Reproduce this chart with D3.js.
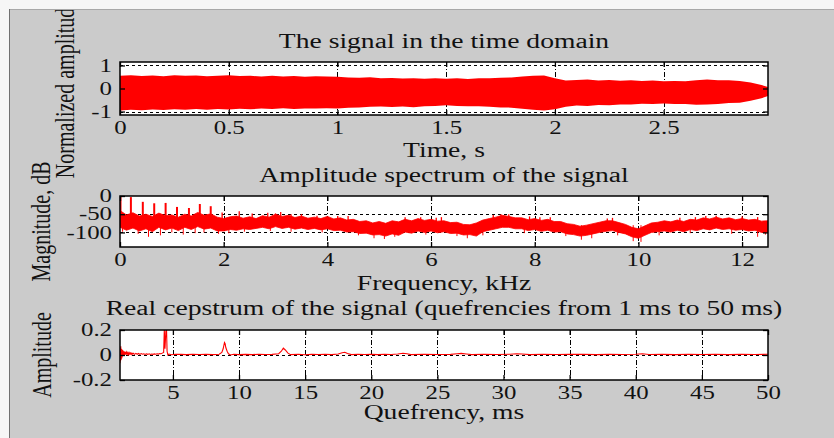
<!DOCTYPE html>
<html>
<head>
<meta charset="utf-8">
<script src="https://cdn.jsdelivr.net/npm/d3@7"></script>
<style>
body { margin: 0; background: #f6f6f6; }
svg { display: block; }
</style>
</head>
<body>
<div id="chart"></div>
<script>
// signal envelope in the time domain
var sigTime = [0, .05, .10, .15, .20, .25, .30, .35, .40, .45, .50, .55, .60, .65, .70, .75, .80, .85, .90, .95,
    1.00, 1.05, 1.10, 1.15, 1.20, 1.25, 1.30, 1.35, 1.40, 1.45, 1.50, 1.55, 1.60, 1.65, 1.70, 1.75, 1.80, 1.85, 1.90, 1.95,
    2.00, 2.05, 2.10, 2.15, 2.20, 2.25, 2.30, 2.35, 2.40, 2.45, 2.50, 2.55, 2.60, 2.65, 2.70, 2.75, 2.80, 2.85, 2.90, 2.95, 2.98];
var sigUpper = [.55, .57, .54, .56, .53, .57, .55, .56, .53, .55, .57, .54, .55, .52, .55, .52, .54, .51, .53, .52,
    .51, .48, .47, .49, .45, .46, .43, .44, .42, .44, .42, .44, .41, .44, .44, .47, .48, .52, .55, .56,
    .44, .35, .37, .39, .35, .37, .34, .36, .33, .35, .31, .33, .32, .36, .39, .36, .36, .33, .26, .15, .07];
var sigLower = [-.95, -.92, -.94, -.91, -.93, -.90, -.92, -.89, -.92, -.89, -.91, -.88, -.90, -.87, -.89, -.86, -.89, -.87, -.87, -.86,
    -.87, -.83, -.82, -.79, -.78, -.80, -.78, -.81, -.77, -.76, -.73, -.76, -.77, -.77, -.79, -.82, -.83, -.88, -.92, -.95,
    -.90, -.79, -.74, -.76, -.72, -.73, -.69, -.69, -.66, -.67, -.65, -.67, -.67, -.70, -.69, -.67, -.63, -.62, -.53, -.42, -.33];
var timeTicks = [0, 0.5, 1, 1.5, 2, 2.5];
var sigTicks = [-1, 0, 1];

// amplitude spectrum: band edges every 0.125 kHz, in dB
var specTop = [-40, -52, -46, -55, -50, -56, -47, -54, -52, -58, -50, -55, -45, -53, -49, -58,
    -62, -57, -55, -61, -57, -62, -54, -58, -50, -56, -53, -59, -55, -61, -58, -62,
    -56, -63, -60, -66, -64, -70, -68, -74, -70, -75, -68, -71, -64, -68, -62, -67,
    -64, -69, -68, -73, -72, -78, -79, -74, -66, -62, -58, -53, -56, -60, -60, -65,
    -62, -67, -64, -70, -70, -76, -78, -83, -80, -76, -72, -68, -68, -73, -78, -86,
    -90, -82, -74, -72, -68, -71, -66, -70, -64, -66, -60, -63, -58, -63, -60, -65,
    -62, -66, -64, -69, -68];
var specBot = [-86, -94, -88, -96, -90, -98, -86, -93, -88, -95, -86, -92, -84, -91, -88, -96,
    -96, -92, -94, -90, -92, -89, -86, -90, -84, -89, -86, -91, -88, -92, -89, -93,
    -90, -95, -94, -99, -98, -103, -102, -107, -106, -110, -104, -108, -99, -102, -96, -100,
    -96, -101, -98, -103, -102, -107, -106, -110, -98, -94, -90, -86, -86, -90, -90, -95,
    -92, -97, -94, -99, -98, -104, -106, -110, -108, -104, -100, -97, -95, -100, -104, -112,
    -116, -108, -100, -98, -96, -99, -94, -98, -92, -95, -90, -93, -88, -92, -90, -94,
    -92, -96, -94, -100, -100];
// harmonic peaks of the voice [kHz, dB]
var specHarm = [[0.01, -1], [0.21, -3], [0.44, -16], [0.66, -20], [0.88, -19], [1.1, -30], [1.33, -33], [1.54, -22], [1.75, -28]];
// smaller spikes above the band [kHz, dB]
var specPeaks = [[1.97, -45], [2.3, -42], [2.55, -48], [2.85, -46], [3.0, -48], [3.1, -44], [3.3, -50], [3.5, -50],
    [3.8, -54], [4.2, -55], [4.4, -55], [5.5, -58], [5.8, -58], [6.1, -60], [6.2, -58], [7.2, -52], [7.35, -50],
    [7.5, -50], [7.9, -56], [8.1, -58], [8.3, -58], [9.4, -62], [9.5, -60], [10.8, -60], [11.1, -58], [11.3, -55],
    [11.5, -54], [12.0, -56], [12.3, -58]];
// spikes below the band [kHz, dB]
var specDips = [[0.05, -98], [0.35, -104], [0.55, -112], [0.78, -108], [1.0, -100], [1.22, -106], [1.45, -102],
    [1.62, -100], [1.9, -104], [2.1, -102], [2.4, -98], [2.9, -96], [3.3, -98], [3.9, -100], [4.6, -108], [4.9, -116],
    [5.1, -118], [5.3, -112], [5.9, -106], [6.5, -110], [6.7, -116], [7.0, -108], [7.8, -102], [8.6, -110], [8.9, -120],
    [9.1, -116], [9.6, -108], [9.9, -124], [10.05, -126], [10.4, -108], [11.0, -102], [11.8, -104], [12.3, -112], [12.45, -106]];
var freqTicks = [0, 2, 4, 6, 8, 10, 12];
var dbTicks = [-100, -50, 0];

// real cepstrum [ms, amplitude]
var cepPoints = [[1.00, -.065], [1.02, .06], [1.04, -.05], [1.06, .07], [1.08, -.04], [1.10, .05], [1.12, -.03], [1.14, .045],
    [1.16, -.02], [1.18, .04], [1.20, -.01], [1.23, .035], [1.26, -.005], [1.29, .03], [1.32, 0], [1.35, .028], [1.38, .002],
    [1.42, .025], [1.46, .004], [1.50, .022], [1.55, .006], [1.60, .02], [1.65, .004], [1.70, .018], [1.75, .006], [1.80, .016],
    [1.85, .004], [1.90, .015], [1.95, .007], [2.0, .014], [2.1, .005], [2.2, .013], [2.3, .006], [2.4, .012], [2.5, .005],
    [2.6, .011], [2.7, .006], [2.8, .01], [2.9, .004], [3.0, .009], [3.1, .005], [3.2, .01], [3.3, .004], [3.4, .008],
    [3.5, .005], [3.6, .009], [3.7, .006], [3.8, .01], [3.9, .007], [4.0, .012], [4.1, .01], [4.2, .015], [4.3, .02],
    [4.35, .2], [4.4, .05], [4.47, .19], [4.52, .2], [4.56, .03], [4.62, 0], [4.7, .008], [4.9, .002], [5.2, .006],
    [5.6, .005], [6.0, .003], [6.5, .005], [7.0, .004], [7.5, .005], [8.0, .003], [8.5, .006], [8.7, .02], [8.8, .05],
    [8.9, .1], [8.95, .09], [9.0, .06], [9.1, .03], [9.2, .01], [9.35, 0], [9.6, .006], [10, .003], [10.5, .005], [11, .003],
    [11.5, .006], [12, .004], [12.5, .005], [13.0, .01], [13.2, .03], [13.35, .055], [13.5, .04], [13.7, .015], [13.9, .003],
    [14.5, .006], [15, .002], [15.5, .005], [16, .004], [16.5, .006], [17, .003], [17.5, .008], [17.8, .018], [18.0, .022],
    [18.2, .012], [18.5, .003], [19, .006], [19.5, .004], [20, .005], [20.5, .003], [21, .006], [21.5, .004], [22, .008],
    [22.4, .014], [22.7, .01], [23, .003], [24, .006], [25, .004], [26, .005], [26.5, .01], [26.8, .013], [27.2, .008],
    [27.6, .003], [28.5, .006], [29.5, .004], [30.5, .006], [31, .01], [31.4, .008], [32, .003], [33, .006], [34, .004],
    [35, .005], [36, .006], [37, .003], [38, .005], [39, .004], [40, .006], [40.5, .01], [41, .004], [42, .005], [43, .003],
    [44, .006], [45, .004], [46, .006], [47, .003], [48, .005], [49, .004], [50, .006]];
var queTicks = [5, 10, 15, 20, 25, 30, 35, 40, 45, 50];
var cepTicks = [-0.2, 0, 0.2];

var W = 834, H = 438, SX = 1.38,
    FONT = '"Liberation Serif", "Times New Roman", serif',
    X0 = 120, X1 = 768;

// band edges are sampled every 0.125 kHz
var specFreq = specTop.map(function (d, i) { return i * 0.125; });

var svg = d3.select('#chart').append('svg')
    .attr('width', W)
    .attr('height', H)
    .style('font-family', FONT);

svg.append('clipPath').attr('id', 'panel-clip')
    .append('rect').attr('x', 10).attr('y', 10).attr('width', W - 10).attr('height', H - 10);

svg.append('rect').attr('width', W).attr('height', H).attr('fill', '#f6f6f6');
svg.append('rect').attr('x', 9).attr('y', 9).attr('width', W - 9).attr('height', H - 9).attr('fill', '#cbcbcb');
svg.append('line').attr('x1', 9).attr('x2', W).attr('y1', 9.5).attr('y2', 9.5).attr('stroke', '#a8a8a8');
svg.append('line').attr('x1', 9.5).attr('x2', 9.5).attr('y1', 9).attr('y2', H).attr('stroke', '#707070');

var panel = svg.append('g').attr('clip-path', 'url(#panel-clip)');

function label(x, y, str, size, rot) {
    return panel.append('text')
        .attr('transform', 'translate(' + x + ',' + y + ') scale(' + SX + ',1)' + (rot ? ' rotate(-90)' : ''))
        .attr('text-anchor', 'middle')
        .attr('font-size', size)
        .attr('fill', '#111')
        .text(str);
}

// one MATLAB style axes box: grid, inward ticks on all sides, labels
function makeAxes(id, top, bottom, x, y, xTicks, yTicks) {
    var h = bottom - top, w = X1 - X0;
    var g = panel.append('g').attr('transform', 'translate(' + X0 + ',' + top + ')');

    g.append('rect').attr('width', w).attr('height', h).attr('fill', '#fff');
    g.append('clipPath').attr('id', id)
        .append('rect').attr('width', w).attr('height', h);

    var grid = g.append('g').attr('stroke', '#000').attr('stroke-width', 1);
    grid.selectAll('.vg').data(xTicks.filter(function (d) {
        return x(d) > 1 && x(d) < w - 1;
    })).enter().append('line')
        .attr('x1', function (d) { return Math.round(x(d)) + 0.5; })
        .attr('x2', function (d) { return Math.round(x(d)) + 0.5; })
        .attr('y1', 0).attr('y2', h)
        .attr('stroke-dasharray', '5,2,1,2');
    grid.selectAll('.hg').data(yTicks.filter(function (d) {
        return y(d) > 1 && y(d) < h - 1;
    })).enter().append('line')
        .attr('x1', 0).attr('x2', w)
        .attr('y1', function (d) { return Math.round(y(d)) + 0.5; })
        .attr('y2', function (d) { return Math.round(y(d)) + 0.5; })
        .attr('stroke-dasharray', '3,3');

    var plot = g.append('g').attr('clip-path', 'url(#' + id + ')');

    var fmt = function (d) { return String(d); };
    var ax = g.append('g')
        .attr('transform', 'translate(0,' + h + ')')
        .call(d3.axisBottom(x).tickValues(xTicks).tickSizeInner(-5).tickSizeOuter(0).tickPadding(6.5).tickFormat(fmt));
    g.append('g')
        .call(d3.axisTop(x).tickValues(xTicks).tickSizeInner(-5).tickSizeOuter(0).tickFormat(''));
    var ay = g.append('g')
        .call(d3.axisLeft(y).tickValues(yTicks).tickSizeInner(-5).tickSizeOuter(0).tickFormat(fmt));
    g.append('g')
        .attr('transform', 'translate(' + w + ',0)')
        .call(d3.axisRight(y).tickValues(yTicks).tickSizeInner(-5).tickSizeOuter(0).tickFormat(''));

    g.selectAll('.domain').remove();
    g.selectAll('.tick line').attr('stroke', '#000').attr('stroke-width', 1.3);
    [ax, ay].forEach(function (a) {
        a.attr('font-family', FONT).attr('font-size', 18);
        a.selectAll('text').attr('fill', '#111');
    });
    ax.selectAll('text').attr('transform', 'scale(' + SX + ',1)');
    ay.selectAll('text').attr('x', -8 / SX).attr('transform', 'scale(' + SX + ',1)');

    return { g: g, plot: plot, w: w, h: h };
}

// 1. signal in the time domain
var x1 = d3.scaleLinear().domain([0, 2.98]).range([0, X1 - X0]),
    y1 = d3.scaleLinear().domain([-1.15, 1.15]).range([115 - 62, 0]);
var a1 = makeAxes('c1', 62, 115, x1, y1, timeTicks, sigTicks);
a1.plot.append('path')
    .datum(sigTime)
    .attr('fill', '#ff0000')
    .attr('d', d3.area()
        .x(function (d) { return x1(d); })
        .y0(function (d, i) { return y1(sigLower[i]); })
        .y1(function (d, i) { return y1(sigUpper[i]); }));

// 2. amplitude spectrum
var x2 = d3.scaleLinear().domain([0, 12.5]).range([0, X1 - X0]),
    y2 = d3.scaleLinear().domain([-140, 0]).range([247 - 196, 0]);
var a2 = makeAxes('c2', 196, 247, x2, y2, freqTicks, dbTicks);
a2.plot.append('path')
    .datum(specFreq)
    .attr('fill', '#ff0000')
    .attr('stroke', '#ff0000')
    .attr('stroke-width', 0.8)
    .attr('d', d3.area()
        .x(function (d) { return x2(d); })
        .y0(function (d, i) { return y2(specBot[i]); })
        .y1(function (d, i) { return y2(specTop[i]); }));

function spikes(data, base, width) {
    a2.plot.append('g').selectAll('line').data(data).enter().append('line')
        .attr('x1', function (d) { return x2(d[0]); })
        .attr('x2', function (d) { return x2(d[0]); })
        .attr('y1', y2(base))
        .attr('y2', function (d) { return y2(d[1]); })
        .attr('stroke', '#ff0000').attr('stroke-width', width);
}
spikes(specHarm, -72, 2);
spikes(specPeaks, -72, 1.3);
spikes(specDips, -80, 1);

// 3. real cepstrum
var x3 = d3.scaleLinear().domain([1, 50]).range([0, X1 - X0]),
    y3 = d3.scaleLinear().domain([-0.2, 0.2]).range([380 - 330, 0]);
var a3 = makeAxes('c3', 330, 380, x3, y3, queTicks, cepTicks);
a3.plot.append('path')
    .datum(cepPoints)
    .attr('fill', 'none')
    .attr('stroke', '#ff0000')
    .attr('stroke-width', 1.1)
    .attr('d', d3.line()
        .x(function (d) { return x3(d[0]); })
        .y(function (d) { return y3(d[1]); }));

// boxes on top
[a1, a2, a3].forEach(function (a) {
    a.g.append('rect')
        .attr('width', a.w).attr('height', a.h)
        .attr('fill', 'none').attr('stroke', '#000').attr('stroke-width', 1.5);
});

// texts
label(444, 48, 'The signal in the time domain', 20);
label(444, 156.5, 'Time, s', 20);
label(74, 88.5, 'Normalized amplitude', 20, true);

label(444, 181.5, 'Amplitude spectrum of the signal', 20);
label(444, 290, 'Frequency, kHz', 20);
label(50, 221.5, 'Magnitude, dB', 20, true);

label(444, 315, 'Real cepstrum of the signal (quefrencies from 1 ms to 50 ms)', 20);
label(444, 419, 'Quefrency, ms', 20);
label(51, 355, 'Amplitude', 20, true);
</script>
</body>
</html>
